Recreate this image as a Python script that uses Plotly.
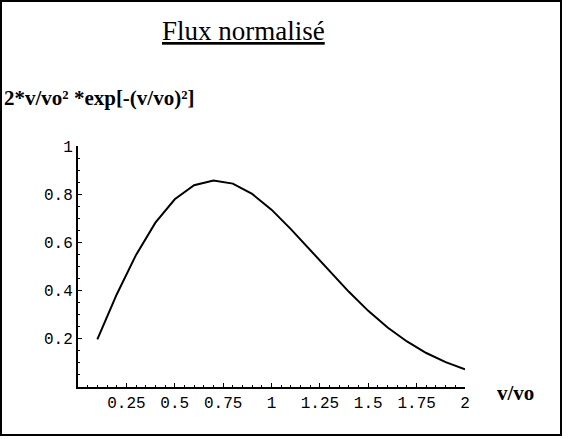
import plotly.graph_objects as go

# Data
v_ratio = [0.1, 0.2, 0.3, 0.4, 0.5, 0.6, 0.7, 0.8, 0.9, 1.0,
           1.1, 1.2, 1.3, 1.4, 1.5, 1.6, 1.7, 1.8, 1.9, 2.0]
flux = [0.198, 0.384, 0.548, 0.682, 0.779, 0.837, 0.857, 0.844, 0.801, 0.736,
        0.655, 0.569, 0.481, 0.395, 0.316, 0.247, 0.189, 0.141, 0.103, 0.073]

x_tick_vals = [0.25, 0.5, 0.75, 1, 1.25, 1.5, 1.75, 2]
x_tick_text = ["0.25", "0.5", "0.75", "1", "1.25", "1.5", "1.75", "2"]
y_tick_vals = [0.2, 0.4, 0.6, 0.8, 1]
y_tick_text = ["0.2", "0.4", "0.6", "0.8", "1"]

W, H = 572, 439
L, R, T, B = 78, 465, 146, 387  # plot area in pixels


def px(p):
    return (p - L) / (R - L)


def py(q):
    return (B - q) / (B - T)


fig = go.Figure()
fig.add_trace(go.Scatter(x=v_ratio, y=flux, mode="lines",
                         line=dict(color="black", width=2),
                         showlegend=False, hoverinfo="skip"))

mono = dict(family="Liberation Mono, DejaVu Sans Mono, monospace", size=16, color="black")
serif = "Liberation Serif, Times New Roman, DejaVu Serif, serif"

fig.update_layout(
    width=W, height=H,
    margin=dict(l=L, r=W - R, t=T, b=H - B, pad=0),
    paper_bgcolor="white", plot_bgcolor="white",
    xaxis=dict(range=[0, 2], showgrid=False, zeroline=False,
               showline=True, linecolor="black", linewidth=2,
               ticks="inside", ticklen=4, tickwidth=1, tickcolor="black",
               tickvals=x_tick_vals, ticktext=x_tick_text, tickfont=mono,
               minor=dict(ticks="inside", ticklen=2, dtick=0.05, tickcolor="black"),
               fixedrange=True),
    yaxis=dict(range=[0, 1], showgrid=False, zeroline=False,
               showline=True, linecolor="black", linewidth=2,
               ticks="inside", ticklen=4, tickwidth=1, tickcolor="black",
               tickvals=y_tick_vals, ticktext=y_tick_text, tickfont=mono,
               minor=dict(ticks="inside", ticklen=2, dtick=0.05, tickcolor="black"),
               fixedrange=True),
    annotations=[
        dict(text="<span style='text-decoration:underline'>Flux normalisé</span>",
             x=px(243), y=py(31), xref="paper", yref="paper",
             xanchor="center", yanchor="middle", showarrow=False,
             font=dict(family=serif, size=27, color="black")),
        dict(text="<b>2*v/vo² *exp[-(v/vo)²]</b>",
             x=px(2), y=py(98), xref="paper", yref="paper",
             xanchor="left", yanchor="middle", showarrow=False,
             font=dict(family=serif, size=21, color="black")),
        dict(text="<b>v/vo</b>",
             x=px(515), y=py(393), xref="paper", yref="paper",
             xanchor="center", yanchor="middle", showarrow=False,
             font=dict(family=serif, size=21, color="black")),
    ],
    shapes=[
        dict(type="rect", xref="paper", yref="paper",
             x0=px(1), x1=px(561), y0=py(435), y1=py(1),
             line=dict(color="black", width=2), fillcolor="rgba(0,0,0,0)"),
    ],
)

fig.write_html("out.html",
               config={"displayModeBar": False, "staticPlot": True},
               post_script="document.body.style.margin='0';document.body.style.overflow='hidden';")
